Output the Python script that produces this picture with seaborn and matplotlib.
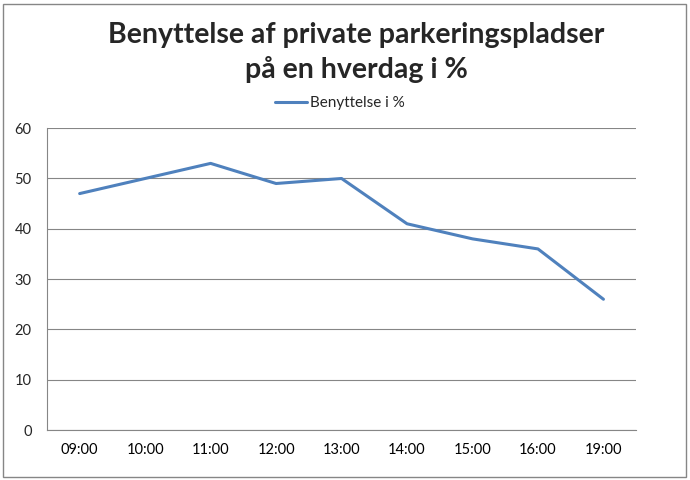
import matplotlib
matplotlib.use("Agg")
import matplotlib.pyplot as plt
import seaborn as sns
import pandas as pd
import numpy as np
from matplotlib.patches import Rectangle

categories = ["09:00", "10:00", "11:00", "12:00", "13:00", "14:00", "15:00", "16:00", "19:00"]
values = [47, 50, 53, 49, 50, 41, 38, 36, 26]
series_name = "Benyttelse i %"
title = "Benyttelse af private parkeringspladser\npå en hverdag i %"

sns.set_style("white")
plt.rcParams['font.family'] = ['Lato', 'DejaVu Sans']

df = pd.DataFrame({"x": np.arange(len(categories)), "y": values, "s": series_name})

fig = plt.figure(figsize=(6.9, 4.8), dpi=100)
ax = fig.add_axes([0.068, 0.104, 0.854, 0.629])
sns.lineplot(data=df, x="x", y="y", hue="s", palette=["#4F81BD"], linewidth=2.2, ax=ax, legend=True)

grey = "#868686"
ax.set_xlim(-0.5, len(categories) - 0.5)
ax.set_ylim(0, 60)
ax.set_yticks(range(0, 61, 10))
ax.yaxis.grid(True, color=grey, linewidth=0.8)
ax.set_axisbelow(True)
ax.set_xticks(np.arange(len(categories)))
ax.set_xticklabels(categories)
ax.set_xticks(np.arange(-0.5, len(categories)), minor=True)
ax.tick_params(axis="x", which="major", length=0, labelsize=10.5, pad=9, colors="black")
ax.tick_params(axis="x", which="minor", length=5, color=grey, direction="out")
ax.tick_params(axis="y", length=5, color=grey, direction="out", labelsize=10.5, pad=6)
ax.set_xlabel("")
ax.set_ylabel("")
for side in ["top", "right"]:
    ax.spines[side].set_visible(False)
for side in ["left", "bottom"]:
    ax.spines[side].set_color(grey)
    ax.spines[side].set_linewidth(0.8)

leg = ax.legend(loc="center left", bbox_to_anchor=(0.3986, 0.7854), bbox_transform=fig.transFigure,
                frameon=False, fontsize=11, handlelength=2.1, handletextpad=0.2,
                borderaxespad=0, borderpad=0)

title_lines = title.split("\n")
fig.text(0.5167, 1 - 43 / 480, title_lines[0], ha="center", va="baseline", fontsize=20.5, fontweight="bold")
fig.text(0.5167, 1 - 78 / 480, title_lines[1], ha="center", va="baseline", fontsize=20.5, fontweight="bold")

fig.patches.append(Rectangle((0.004, 0.006), 0.99, 0.986, transform=fig.transFigure,
                             fill=False, edgecolor=grey, linewidth=1.0))

fig.savefig("out.png", dpi=100)
